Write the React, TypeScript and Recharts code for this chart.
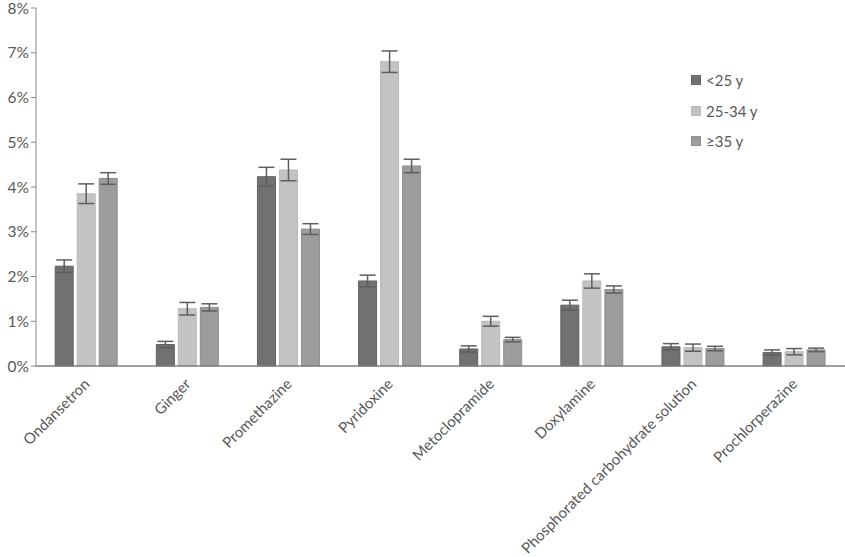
import { BarChart, Bar, XAxis, YAxis, ErrorBar } from "recharts";

const drugs = [
  "Ondansetron",
  "Ginger",
  "Promethazine",
  "Pyridoxine",
  "Metoclopramide",
  "Doxylamine",
  "Phosphorated carbohydrate solution",
  "Prochlorperazine",
];

// percent of pregnancies, by maternal age group
const under25 = [2.23, 0.48, 4.23, 1.9, 0.38, 1.36, 0.43, 0.3];
const age25to34 = [3.85, 1.28, 4.38, 6.8, 1.0, 1.9, 0.41, 0.32];
const over35 = [4.19, 1.31, 3.06, 4.47, 0.59, 1.71, 0.39, 0.36];

// half-width of the 95% CI
const under25Err = [0.14, 0.07, 0.21, 0.13, 0.07, 0.11, 0.07, 0.06];
const age25to34Err = [0.22, 0.14, 0.24, 0.24, 0.11, 0.16, 0.08, 0.07];
const over35Err = [0.13, 0.08, 0.12, 0.15, 0.05, 0.08, 0.05, 0.04];

const yTicks = [0, 1, 2, 3, 4, 5, 6, 7, 8];

const series = [
  { key: "a", name: "<25 y", fill: "#717171", stroke: "#626262" },
  { key: "b", name: "25-34 y", fill: "#c3c3c3", stroke: "#b8b8b8" },
  { key: "c", name: "≥35 y", fill: "#9c9c9c", stroke: "#8f8f8f" },
];

const data = drugs.map((drug, i) => ({
  drug,
  a: under25[i],
  aErr: under25Err[i],
  b: age25to34[i],
  bErr: age25to34Err[i],
  c: over35[i],
  cErr: over35Err[i],
}));

const FONT = "Lato, 'Open Sans', sans-serif";

function DrugTick(props: any) {
  const { x, y, payload } = props;
  const ax = x + 4;
  const ay = y + 11;
  return (
    <text
      x={ax}
      y={ay}
      transform={`rotate(-45, ${ax}, ${ay})`}
      textAnchor="end"
      fontSize={15}
      fontFamily={FONT}
      fill="#595959"
    >
      {payload.value}
    </text>
  );
}

function AgeLegend() {
  return (
    <div
      style={{
        position: "absolute",
        left: 691,
        top: 65,
        fontFamily: FONT,
        fontSize: 15,
        color: "#595959",
      }}
    >
      {series.map((s) => (
        <div
          key={s.key}
          style={{ display: "flex", alignItems: "center", height: 30.5 }}
        >
          <span
            style={{
              width: 8,
              height: 8,
              background: s.fill,
              border: `1px solid ${s.stroke}`,
              marginRight: 5,
            }}
          />
          {s.name}
        </div>
      ))}
    </div>
  );
}

export default function App() {
  return (
    <div style={{ position: "absolute", left: 0, top: 0, background: "#fff" }}>
      <BarChart
        width={845}
        height={557}
        data={data}
        margin={{ top: 8, right: 0, bottom: 0, left: 0 }}
        barCategoryGap="19%"
        barGap={4}
      >
        <XAxis
          dataKey="drug"
          interval={0}
          tickLine={false}
          axisLine={{ stroke: "#7f7f7f", strokeWidth: 1.5 }}
          tick={<DrugTick />}
          height={191}
        />
        <YAxis
          domain={[0, 8]}
          ticks={yTicks}
          interval={0}
          width={36}
          tickSize={5}
          tickLine={{ stroke: "#8a8a8a" }}
          axisLine={{ stroke: "#8a8a8a" }}
          tickFormatter={(v: number) => `${v}%`}
          tick={{ fontSize: 15.5, fill: "#595959", fontFamily: FONT }}
        />
        {series.map((s) => (
          <Bar
            key={s.key}
            dataKey={s.key}
            name={s.name}
            fill={s.fill}
            stroke={s.stroke}
            strokeWidth={1}
            isAnimationActive={false}
          >
            <ErrorBar
              dataKey={`${s.key}Err`}
              width={8}
              stroke="#5e5e5e"
              strokeWidth={1.5}
            />
          </Bar>
        ))}
      </BarChart>
      <AgeLegend />
    </div>
  );
}
